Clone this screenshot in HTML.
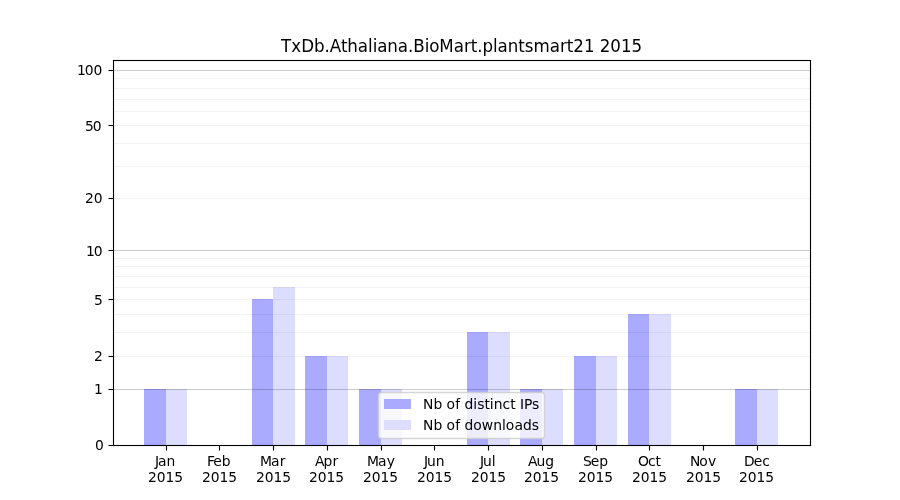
<!DOCTYPE html>
<html lang="en">
<head>
<meta charset="utf-8">
<title>TxDb.Athaliana.BioMart.plantsmart21 2015</title>
<style>
html, body { margin: 0; padding: 0; background: #ffffff; }
body { width: 900px; height: 500px; overflow: hidden; }
svg { display: block; }
text { font-family: "DejaVu Sans", "Liberation Sans", sans-serif; fill: #000000; }
.crisp { shape-rendering: crispEdges; }
</style>
</head>
<body>
<svg width="900" height="500" viewBox="0 0 900 500">
<rect x="0" y="0" width="900" height="500" fill="#ffffff"/>
<!-- bars -->
<g class="crisp" fill="#aaaaff">
<rect x="144" y="389" width="22" height="56"/>
<rect x="252" y="299" width="21" height="146"/>
<rect x="305" y="356" width="22" height="89"/>
<rect x="359" y="389" width="22" height="56"/>
<rect x="467" y="332" width="21" height="113"/>
<rect x="520" y="389" width="22" height="56"/>
<rect x="574" y="356" width="22" height="89"/>
<rect x="628" y="314" width="21" height="131"/>
<rect x="735" y="389" width="22" height="56"/>
</g>
<g class="crisp" fill="#ddddff">
<rect x="166" y="389" width="21" height="56"/>
<rect x="273" y="287" width="22" height="158"/>
<rect x="327" y="356" width="21" height="89"/>
<rect x="381" y="389" width="21" height="56"/>
<rect x="488" y="332" width="22" height="113"/>
<rect x="542" y="389" width="21" height="56"/>
<rect x="596" y="356" width="21" height="89"/>
<rect x="649" y="314" width="22" height="131"/>
<rect x="757" y="389" width="21" height="56"/>
</g>
<!-- horizontal grid lines -->
<g class="crisp" fill="#000000" fill-opacity="0.05">
<rect x="114" y="78" width="696" height="1"/>
<rect x="114" y="88" width="696" height="1"/>
<rect x="114" y="99" width="696" height="1"/>
<rect x="114" y="111" width="696" height="1"/>
<rect x="114" y="125" width="696" height="1"/>
<rect x="114" y="143" width="696" height="1"/>
<rect x="114" y="166" width="696" height="1"/>
<rect x="114" y="198" width="696" height="1"/>
<rect x="114" y="258" width="696" height="1"/>
<rect x="114" y="266" width="696" height="1"/>
<rect x="114" y="276" width="696" height="1"/>
<rect x="114" y="287" width="696" height="1"/>
<rect x="114" y="299" width="696" height="1"/>
<rect x="114" y="314" width="696" height="1"/>
<rect x="114" y="332" width="696" height="1"/>
<rect x="114" y="356" width="696" height="1"/>
</g>
<g class="crisp" fill="#000000" fill-opacity="0.2">
<rect x="114" y="70" width="696" height="1"/>
<rect x="114" y="250" width="696" height="1"/>
<rect x="114" y="389" width="696" height="1"/>
</g>
<!-- tick marks -->
<g class="crisp" fill="#000000">
<rect x="166" y="446" width="1" height="4"/>
<rect x="166" y="450" width="1" height="1" fill-opacity="0.5"/>
<rect x="165" y="446" width="1" height="4" fill-opacity="0.0555"/>
<rect x="167" y="446" width="1" height="4" fill-opacity="0.0555"/>
<rect x="165" y="450" width="1" height="1" fill-opacity="0.02775"/>
<rect x="167" y="450" width="1" height="1" fill-opacity="0.02775"/>
<rect x="219" y="446" width="1" height="4"/>
<rect x="219" y="450" width="1" height="1" fill-opacity="0.5"/>
<rect x="218" y="446" width="1" height="4" fill-opacity="0.0555"/>
<rect x="220" y="446" width="1" height="4" fill-opacity="0.0555"/>
<rect x="218" y="450" width="1" height="1" fill-opacity="0.02775"/>
<rect x="220" y="450" width="1" height="1" fill-opacity="0.02775"/>
<rect x="273" y="446" width="1" height="4"/>
<rect x="273" y="450" width="1" height="1" fill-opacity="0.5"/>
<rect x="272" y="446" width="1" height="4" fill-opacity="0.0555"/>
<rect x="274" y="446" width="1" height="4" fill-opacity="0.0555"/>
<rect x="272" y="450" width="1" height="1" fill-opacity="0.02775"/>
<rect x="274" y="450" width="1" height="1" fill-opacity="0.02775"/>
<rect x="327" y="446" width="1" height="4"/>
<rect x="327" y="450" width="1" height="1" fill-opacity="0.5"/>
<rect x="326" y="446" width="1" height="4" fill-opacity="0.0555"/>
<rect x="328" y="446" width="1" height="4" fill-opacity="0.0555"/>
<rect x="326" y="450" width="1" height="1" fill-opacity="0.02775"/>
<rect x="328" y="450" width="1" height="1" fill-opacity="0.02775"/>
<rect x="381" y="446" width="1" height="4"/>
<rect x="381" y="450" width="1" height="1" fill-opacity="0.5"/>
<rect x="380" y="446" width="1" height="4" fill-opacity="0.0555"/>
<rect x="382" y="446" width="1" height="4" fill-opacity="0.0555"/>
<rect x="380" y="450" width="1" height="1" fill-opacity="0.02775"/>
<rect x="382" y="450" width="1" height="1" fill-opacity="0.02775"/>
<rect x="434" y="446" width="1" height="4"/>
<rect x="434" y="450" width="1" height="1" fill-opacity="0.5"/>
<rect x="433" y="446" width="1" height="4" fill-opacity="0.0555"/>
<rect x="435" y="446" width="1" height="4" fill-opacity="0.0555"/>
<rect x="433" y="450" width="1" height="1" fill-opacity="0.02775"/>
<rect x="435" y="450" width="1" height="1" fill-opacity="0.02775"/>
<rect x="488" y="446" width="1" height="4"/>
<rect x="488" y="450" width="1" height="1" fill-opacity="0.5"/>
<rect x="487" y="446" width="1" height="4" fill-opacity="0.0555"/>
<rect x="489" y="446" width="1" height="4" fill-opacity="0.0555"/>
<rect x="487" y="450" width="1" height="1" fill-opacity="0.02775"/>
<rect x="489" y="450" width="1" height="1" fill-opacity="0.02775"/>
<rect x="542" y="446" width="1" height="4"/>
<rect x="542" y="450" width="1" height="1" fill-opacity="0.5"/>
<rect x="541" y="446" width="1" height="4" fill-opacity="0.0555"/>
<rect x="543" y="446" width="1" height="4" fill-opacity="0.0555"/>
<rect x="541" y="450" width="1" height="1" fill-opacity="0.02775"/>
<rect x="543" y="450" width="1" height="1" fill-opacity="0.02775"/>
<rect x="596" y="446" width="1" height="4"/>
<rect x="596" y="450" width="1" height="1" fill-opacity="0.5"/>
<rect x="595" y="446" width="1" height="4" fill-opacity="0.0555"/>
<rect x="597" y="446" width="1" height="4" fill-opacity="0.0555"/>
<rect x="595" y="450" width="1" height="1" fill-opacity="0.02775"/>
<rect x="597" y="450" width="1" height="1" fill-opacity="0.02775"/>
<rect x="649" y="446" width="1" height="4"/>
<rect x="649" y="450" width="1" height="1" fill-opacity="0.5"/>
<rect x="648" y="446" width="1" height="4" fill-opacity="0.0555"/>
<rect x="650" y="446" width="1" height="4" fill-opacity="0.0555"/>
<rect x="648" y="450" width="1" height="1" fill-opacity="0.02775"/>
<rect x="650" y="450" width="1" height="1" fill-opacity="0.02775"/>
<rect x="703" y="446" width="1" height="4"/>
<rect x="703" y="450" width="1" height="1" fill-opacity="0.5"/>
<rect x="702" y="446" width="1" height="4" fill-opacity="0.0555"/>
<rect x="704" y="446" width="1" height="4" fill-opacity="0.0555"/>
<rect x="702" y="450" width="1" height="1" fill-opacity="0.02775"/>
<rect x="704" y="450" width="1" height="1" fill-opacity="0.02775"/>
<rect x="757" y="446" width="1" height="4"/>
<rect x="757" y="450" width="1" height="1" fill-opacity="0.5"/>
<rect x="756" y="446" width="1" height="4" fill-opacity="0.0555"/>
<rect x="758" y="446" width="1" height="4" fill-opacity="0.0555"/>
<rect x="756" y="450" width="1" height="1" fill-opacity="0.02775"/>
<rect x="758" y="450" width="1" height="1" fill-opacity="0.02775"/>
<rect x="109" y="445" width="4" height="1"/>
<rect x="108" y="445" width="1" height="1" fill-opacity="0.5"/>
<rect x="109" y="444" width="4" height="1" fill-opacity="0.0555"/>
<rect x="109" y="446" width="4" height="1" fill-opacity="0.0555"/>
<rect x="108" y="444" width="1" height="1" fill-opacity="0.02775"/>
<rect x="108" y="446" width="1" height="1" fill-opacity="0.02775"/>
<rect x="109" y="389" width="4" height="1"/>
<rect x="108" y="389" width="1" height="1" fill-opacity="0.5"/>
<rect x="109" y="388" width="4" height="1" fill-opacity="0.0555"/>
<rect x="109" y="390" width="4" height="1" fill-opacity="0.0555"/>
<rect x="108" y="388" width="1" height="1" fill-opacity="0.02775"/>
<rect x="108" y="390" width="1" height="1" fill-opacity="0.02775"/>
<rect x="109" y="356" width="4" height="1"/>
<rect x="108" y="356" width="1" height="1" fill-opacity="0.5"/>
<rect x="109" y="355" width="4" height="1" fill-opacity="0.0555"/>
<rect x="109" y="357" width="4" height="1" fill-opacity="0.0555"/>
<rect x="108" y="355" width="1" height="1" fill-opacity="0.02775"/>
<rect x="108" y="357" width="1" height="1" fill-opacity="0.02775"/>
<rect x="109" y="299" width="4" height="1"/>
<rect x="108" y="299" width="1" height="1" fill-opacity="0.5"/>
<rect x="109" y="298" width="4" height="1" fill-opacity="0.0555"/>
<rect x="109" y="300" width="4" height="1" fill-opacity="0.0555"/>
<rect x="108" y="298" width="1" height="1" fill-opacity="0.02775"/>
<rect x="108" y="300" width="1" height="1" fill-opacity="0.02775"/>
<rect x="109" y="250" width="4" height="1"/>
<rect x="108" y="250" width="1" height="1" fill-opacity="0.5"/>
<rect x="109" y="249" width="4" height="1" fill-opacity="0.0555"/>
<rect x="109" y="251" width="4" height="1" fill-opacity="0.0555"/>
<rect x="108" y="249" width="1" height="1" fill-opacity="0.02775"/>
<rect x="108" y="251" width="1" height="1" fill-opacity="0.02775"/>
<rect x="109" y="198" width="4" height="1"/>
<rect x="108" y="198" width="1" height="1" fill-opacity="0.5"/>
<rect x="109" y="197" width="4" height="1" fill-opacity="0.0555"/>
<rect x="109" y="199" width="4" height="1" fill-opacity="0.0555"/>
<rect x="108" y="197" width="1" height="1" fill-opacity="0.02775"/>
<rect x="108" y="199" width="1" height="1" fill-opacity="0.02775"/>
<rect x="109" y="125" width="4" height="1"/>
<rect x="108" y="125" width="1" height="1" fill-opacity="0.5"/>
<rect x="109" y="124" width="4" height="1" fill-opacity="0.0555"/>
<rect x="109" y="126" width="4" height="1" fill-opacity="0.0555"/>
<rect x="108" y="124" width="1" height="1" fill-opacity="0.02775"/>
<rect x="108" y="126" width="1" height="1" fill-opacity="0.02775"/>
<rect x="109" y="70" width="4" height="1"/>
<rect x="108" y="70" width="1" height="1" fill-opacity="0.5"/>
<rect x="109" y="69" width="4" height="1" fill-opacity="0.0555"/>
<rect x="109" y="71" width="4" height="1" fill-opacity="0.0555"/>
<rect x="108" y="69" width="1" height="1" fill-opacity="0.02775"/>
<rect x="108" y="71" width="1" height="1" fill-opacity="0.02775"/>
</g>
<!-- axes frame -->
<g class="crisp" fill="#000000">
<g fill-opacity="0.0555">
<rect x="112" y="60" width="1" height="386"/>
<rect x="114" y="60" width="1" height="386"/>
<rect x="809" y="60" width="1" height="386"/>
<rect x="811" y="60" width="1" height="386"/>
<rect x="113" y="59" width="698" height="1"/>
<rect x="113" y="61" width="698" height="1"/>
<rect x="113" y="444" width="698" height="1"/>
<rect x="113" y="446" width="698" height="1"/>
<rect x="113" y="59" width="1" height="1"/>
<rect x="810" y="59" width="1" height="1"/>
<rect x="113" y="446" width="1" height="1"/>
<rect x="810" y="446" width="1" height="1"/>
<rect x="112" y="60" width="1" height="1"/>
<rect x="811" y="60" width="1" height="1"/>
<rect x="112" y="445" width="1" height="1"/>
<rect x="811" y="445" width="1" height="1"/>
</g>
<rect x="113" y="60" width="698" height="1"/>
<rect x="113" y="445" width="698" height="1"/>
<rect x="113" y="60" width="1" height="386"/>
<rect x="810" y="60" width="1" height="386"/>
</g>
<!-- title -->
<text transform="translate(281,52) scale(0.96,1)" x="0 10.566 21.069 34.378 45.367 50.869 62.393 68.917 79.889 90.749 95.553 100.374 110.712 121.668 132.283 137.769 149.651 154.455 164.777 179.97 190.569 197.678 204.463 209.965 220.954 225.498 236.097 247.069 253.853 263.122 279.986 290.585 297.694 304.479 315.744 326.765 331.991 343.011 354.277 365.021" y="0" font-size="17.4">TxDb.Athaliana.BioMart.plantsmart21 2015</text>
<!-- x tick labels -->
<text x="155.012 158.087 166.596" y="466" font-size="13.889">Jan</text>
<text x="147.887 156.652 165.434 174.215" y="482" font-size="13.889">2015</text>
<text x="207.123 213.356 221.653" y="466" font-size="13.889">Feb</text>
<text x="202.123 210.639 219.42 228.201" y="482" font-size="13.889">2015</text>
<text x="259.985 271.039 279.85" y="466" font-size="13.889">Mar</text>
<text x="256.11 264.625 273.407 282.188" y="482" font-size="13.889">2015</text>
<text x="315.096 323.624 332.476" y="466" font-size="13.889">Apr</text>
<text x="309.096 317.862 326.393 335.174" y="482" font-size="13.889">2015</text>
<text x="366.958 378.005 386.81" y="466" font-size="13.889">May</text>
<text x="363.083 371.848 380.38 389.161" y="482" font-size="13.889">2015</text>
<text x="423.882 426.925 435.645" y="466" font-size="13.889">Jun</text>
<text x="417.069 425.835 434.616 443.147" y="482" font-size="13.889">2015</text>
<text x="480.056 483.103 491.835" y="466" font-size="13.889">Jul</text>
<text x="471.056 479.821 488.603 497.134" y="482" font-size="13.889">2015</text>
<text x="528.042 536.538 545.345" y="466" font-size="13.889">Aug</text>
<text x="524.042 532.808 541.589 550.37" y="482" font-size="13.889">2015</text>
<text x="583.029 590.815 599.352" y="466" font-size="13.889">Sep</text>
<text x="578.029 586.795 595.576 604.357" y="482" font-size="13.889">2015</text>
<text x="638.078 647.984 655.375" y="466" font-size="13.889">Oct</text>
<text x="632.015 640.781 649.562 658.344" y="482" font-size="13.889">2015</text>
<text x="690.002 699.139 707.883" y="466" font-size="13.889">Nov</text>
<text x="686.002 694.768 703.549 712.33" y="482" font-size="13.889">2015</text>
<text x="744.113 753.791 762.343" y="466" font-size="13.889">Dec</text>
<text x="738.988 747.754 756.535 765.317" y="482" font-size="13.889">2015</text>
<!-- y tick labels -->
<text x="95.028" y="450" font-size="13.889">0</text>
<text x="93.903" y="394" font-size="13.889">1</text>
<text x="94.028" y="361" font-size="13.889">2</text>
<text x="94.028" y="305" font-size="13.889">5</text>
<text x="85.903 93.7" y="256" font-size="13.889">10</text>
<text x="85.028 93.762" y="203" font-size="13.889">20</text>
<text x="85.028 92.762" y="131" font-size="13.889">50</text>
<text x="76.903 84.679 93.471" y="75" font-size="13.889">100</text>
<!-- legend -->
<rect x="378.500" y="392.500" width="166.000" height="46.000" rx="3.000" ry="3.000" fill="#ffffff" fill-opacity="0.79" stroke="#cccccc" stroke-opacity="0.8" stroke-width="1.389"/>
<g class="crisp">
<rect x="384" y="399" width="27" height="10" fill="#aaaaff"/>
<rect x="384" y="420" width="27" height="10" fill="#ddddff"/>
</g>
<text x="423.069 433.44 442.234 446.404 455.135 460.023 464.428 473.237 477.329 484.56 489.746 493.854 502.397 510.269 515.704 520.109 523.951 532.072" y="409" font-size="13.889">Nb of distinct IPs</text>
<text x="423.069 433.471 442.291 446.474 455.23 460.133 464.551 473.136 481.642 493.265 502.084 505.703 514.46 522.981 531.817" y="430" font-size="13.889">Nb of downloads</text>
</svg>
</body>
</html>
